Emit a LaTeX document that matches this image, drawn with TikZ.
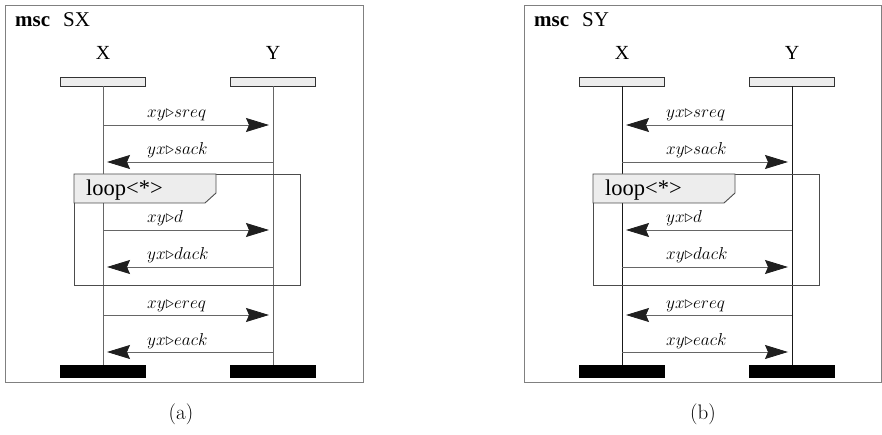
\documentclass[tikz,border=0pt]{standalone}
\usepackage{fontspec}
\newfontfamily\mscfont{Liberation Serif}
\usetikzlibrary{arrows.meta}
\tikzset{
  frameline/.style={draw=black!50, line width=0.9pt},
  headbox/.style={draw=black!80, fill=black!7, line width=0.8pt, minimum width=85pt, minimum height=9pt, inner sep=0pt},
  endbar/.style={draw=black, fill=black, minimum width=85pt, minimum height=12pt, inner sep=0pt},
  instname/.style={font=\mscfont\fontsize{20}{22}\selectfont},
  titletext/.style={anchor=base west, inner sep=0pt, font=\mscfont\fontsize{21}{23}\selectfont},
  lifeline/.style={draw=black!60, line width=0.9pt},
  msgr/.style={draw=black!60, line width=0.9pt, -{Stealth[length=23pt, width=14pt, inset=3pt, fill=black!88, color=black!88]}, shorten >=4pt},
  msgl/.style={draw=black!60, line width=0.9pt, {Stealth[length=23pt, width=14pt, inset=3pt, fill=black!88, color=black!88]}-, shorten <=4pt},
  msglabel/.style={anchor=base west, inner sep=0pt, font=\fontsize{17.28}{20}\selectfont},
  loopline/.style={draw=black!70, line width=0.9pt},
  looptag/.style={draw=black!70, fill=black!7, line width=0.9pt},
  looptext/.style={anchor=base west, inner sep=0pt, font=\mscfont\fontsize{22.5}{24}\selectfont},
  captiontext/.style={font=\fontsize{21}{24}\selectfont}
}
\begin{document}
\begin{tikzpicture}[x=1pt, y=-1pt]
\useasboundingbox (0,0) rectangle (882,435);
% ---------- panel (a)
\begin{scope}[name prefix=a-]
  \draw[frameline] (5,5) rectangle (363,382);
  \node[titletext] (title) at (15,27) {\textbf{msc}\hspace{13pt}SX};
  \node[instname] (nx) at (103,53) {X};
  \node[instname] (ny) at (273,53) {Y};
  \node[headbox] (hx) at (103,81.5) {};
  \node[headbox] (hy) at (273,81.5) {};
  \node[endbar] (ex) at (103,371) {};
  \node[endbar] (ey) at (273,371) {};
  \draw[lifeline] (hx.south) -- (ex.north);
  \draw[lifeline] (hy.south) -- (ey.north);
  \foreach \i/\yy/\d/\lab in {1/125/r/{xy{\triangleright}sreq},2/162/l/{yx{\triangleright}sack},3/230/r/{xy{\triangleright}d},4/267/l/{yx{\triangleright}dack},5/315/r/{xy{\triangleright}ereq},6/352/l/{yx{\triangleright}eack}}{
    \coordinate (x\i) at (103,\yy);
    \coordinate (y\i) at (273,\yy);
    \draw[msg\d] (x\i) -- (y\i);
    \node[msglabel] (lab\i) at (147,\yy-7) {$\lab$};
  }
  \draw[loopline] (74,174) rectangle (300,285);
  \draw[looptag] (74,174) -- (216,174) -- (216,193) -- (205,203) -- (74,203) -- cycle;
  \node[looptext] (loop) at (86,196) {loop<*>};
\end{scope}
% ---------- panel (b)
\begin{scope}[name prefix=b-, xshift=519pt]
  \draw[frameline] (5,5) rectangle (362,382);
  \node[titletext] (title) at (15,27) {\textbf{msc}\hspace{13pt}SY};
  \node[instname] (nx) at (103,53) {X};
  \node[instname] (ny) at (273,53) {Y};
  \node[headbox] (hx) at (103,81.5) {};
  \node[headbox] (hy) at (273,81.5) {};
  \node[endbar] (ex) at (103,371) {};
  \node[endbar] (ey) at (273,371) {};
  \draw[lifeline, draw=black!90] (hx.south) -- (ex.north);
  \draw[lifeline, draw=black!90] (hy.south) -- (ey.north);
  \foreach \i/\yy/\d/\lab in {1/125/l/{yx{\triangleright}sreq},2/162/r/{xy{\triangleright}sack},3/230/l/{yx{\triangleright}d},4/267/r/{xy{\triangleright}dack},5/315/l/{yx{\triangleright}ereq},6/352/r/{xy{\triangleright}eack}}{
    \coordinate (x\i) at (103,\yy);
    \coordinate (y\i) at (273,\yy);
    \draw[msg\d] (x\i) -- (y\i);
    \node[msglabel] (lab\i) at (147,\yy-7) {$\lab$};
  }
  \draw[loopline] (74,174) rectangle (300,285);
  \draw[looptag] (74,174) -- (216,174) -- (216,193) -- (205,203) -- (74,203) -- cycle;
  \node[looptext] (loop) at (86,196) {loop<*>};
\end{scope}
\node[captiontext] (capa) at (181,414) {(a)};
\node[captiontext] (capb) at (703,414) {(b)};
\end{tikzpicture}
\end{document}
